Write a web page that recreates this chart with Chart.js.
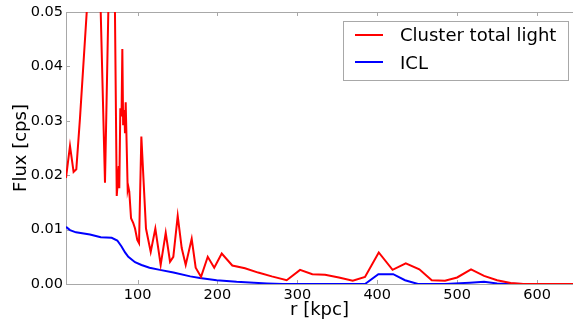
<!DOCTYPE html>
<html>
<head>
<meta charset="utf-8">
<script src="https://cdn.jsdelivr.net/npm/chart.js@4/dist/chart.umd.min.js"></script>
<style>
  body { margin: 0; background: #fff; }
  canvas { display: block; }
</style>
</head>
<body>
<canvas id="perfil" width="573" height="322"></canvas>
<script>
// dados
var nomes = ['Cluster total light', 'ICL'];

var rTotal = [10.5, 15.5, 20, 23.4, 28, 49, 59.3, 69, 74, 75, 76.5, 77.2, 78.5, 80, 81, 82, 83.5, 84.3, 85.2,
    87.7, 88.5, 89.7, 91.9, 94.7, 96.9, 99.7, 101.9, 104.8, 110.6, 116.5, 122.3, 129, 135.3, 140.7, 144.8,
    150.3, 155.3, 160.3, 167.8, 172.8, 179.5, 187.9, 196, 205.4, 218.6, 234.5, 251, 268, 286.7, 303.4, 318.8,
    334.7, 352, 369.4, 384.7, 401.9, 419.2, 435.7, 452.7, 468.2, 484.8, 500, 517.4, 533.7, 550, 567, 583,
    600, 617, 633, 645];
var fluxTotal = [0.0195, 0.0254, 0.0206, 0.0211, 0.0305, 0.079, 0.0186, 0.092, 0.0162, 0.0182, 0.0217, 0.0176,
    0.0323, 0.0308, 0.0432, 0.0292, 0.0320, 0.0277, 0.0334, 0.0173, 0.0179, 0.0170, 0.0121, 0.0112, 0.0102,
    0.0081, 0.0075, 0.0271, 0.0102, 0.0059, 0.0102, 0.0035, 0.0094, 0.0041, 0.0050, 0.0125, 0.0066, 0.0035,
    0.0083, 0.0030, 0.0013, 0.0050, 0.0030, 0.0056, 0.0034, 0.0029, 0.0021, 0.0014, 0.0007, 0.0026, 0.0018,
    0.0017, 0.0012, 0.0006, 0.0013, 0.0058, 0.0026, 0.0038, 0.0027, 0.0007, 0.0006, 0.0012, 0.0027, 0.0015,
    0.0007, 0.0002, 0, 0, 0, 0, 0];

var rIcl = [10.5, 15.5, 23, 40.5, 54, 67.7, 74.7, 80, 84.4, 88.5, 96.9, 105, 115, 128, 145, 166, 178, 199,
    224, 262, 282, 384.7, 401.4, 420, 434.8, 451, 484.8, 516, 533.7, 550, 583, 600, 645];
var fluxIcl = [0.0105, 0.0099, 0.0095, 0.0091, 0.0086, 0.0085, 0.0080, 0.0069, 0.0058, 0.0050, 0.0040, 0.0035,
    0.0030, 0.0026, 0.0021, 0.0014, 0.0011, 0.0007, 0.0004, 0.0001, 0, 0, 0.0018, 0.0018, 0.0007, 0, 0,
    0.00025, 0.0004, 0.0001, 0, 0, 0];

var ticksX = [100, 200, 300, 400, 500, 600];
var ticksY = [0, 0.01, 0.02, 0.03, 0.04, 0.05];

var fonte = "'DejaVu Sans', sans-serif";
var cinza = '#a8a8a8';

function pontos(xs, ys) {
    var lista = [];
    for (var i = 0; i < xs.length; i++) {
        lista.push({ x: xs[i], y: ys[i] });
    }
    return lista;
}

// moldura com ticks para dentro (estilo matplotlib)
var moldura = {
    id: 'moldura',
    beforeDatasetsDraw: function (chart) {
        var c = chart.ctx;
        var a = chart.chartArea;
        var sx = chart.scales.x;
        var sy = chart.scales.y;
        c.save();
        c.strokeStyle = cinza;
        c.lineWidth = 1;
        c.strokeRect(a.left + 0.5, a.top + 0.5, a.right - a.left, a.bottom - a.top);
        c.beginPath();
        ticksX.forEach(function (v) {
            var px = Math.round(sx.getPixelForValue(v)) + 0.5;
            c.moveTo(px, a.bottom); c.lineTo(px, a.bottom - 4);
            c.moveTo(px, a.top); c.lineTo(px, a.top + 4);
        });
        ticksY.forEach(function (v) {
            var py = Math.round(sy.getPixelForValue(v)) + 0.5;
            c.moveTo(a.left, py); c.lineTo(a.left + 4, py);
        });
        c.stroke();
        c.restore();
    },
    afterDraw: function (chart) {
        var c = chart.ctx;
        c.save();
        c.fillStyle = '#fff';
        c.fillRect(343.5, 21.5, 225, 59);
        c.strokeStyle = cinza;
        c.lineWidth = 1;
        c.strokeRect(343.5, 21.5, 225, 59);
        var linhas = [35, 62];
        var bases = [41.3, 69.3];
        chart.data.datasets.forEach(function (ds, i) {
            c.strokeStyle = ds.borderColor;
            c.lineWidth = 2;
            c.beginPath();
            c.moveTo(355, linhas[i]);
            c.lineTo(383, linhas[i]);
            c.stroke();
            c.fillStyle = '#000';
            c.font = '18px ' + fonte;
            c.textBaseline = 'alphabetic';
            c.textAlign = 'left';
            c.fillText(ds.label, 400, bases[i]);
        });
        c.restore();
    }
};

var ctx = document.getElementById('perfil');
var grafico = new Chart(ctx, {
    type: 'line',
    data: {
        datasets: [
            {
                label: nomes[0],
                data: pontos(rTotal, fluxTotal),
                borderColor: '#ff0000',
                borderWidth: 2,
                pointRadius: 0,
                tension: 0,
                fill: false
            },
            {
                label: nomes[1],
                data: pontos(rIcl, fluxIcl),
                borderColor: '#0000ff',
                borderWidth: 2,
                pointRadius: 0,
                tension: 0,
                fill: false
            }
        ]
    },
    options: {
        responsive: false,
        animation: false,
        events: [],
        layout: { padding: { top: 12, left: 0, right: 0, bottom: 0 } },
        plugins: {
            legend: { display: false },
            tooltip: { enabled: false }
        },
        scales: {
            x: {
                type: 'linear',
                min: 10.5,
                max: 645,
                afterBuildTicks: function (s) { s.ticks = ticksX.map(function (v) { return { value: v }; }); },
                afterFit: function (s) { s.height = 38; },
                grid: { display: false, drawTicks: false },
                border: { display: false },
                ticks: { color: '#000', font: { family: fonte, size: 14.5 }, padding: 3, maxRotation: 0 },
                title: {
                    display: true,
                    text: 'r [kpc]',
                    color: '#000',
                    font: { family: fonte, size: 18 },
                    padding: { top: 0, bottom: 1 }
                }
            },
            y: {
                type: 'linear',
                min: 0,
                max: 0.05,
                afterBuildTicks: function (s) { s.ticks = ticksY.map(function (v) { return { value: v }; }); },
                afterFit: function (s) { s.width = 66; },
                grid: { display: false, drawTicks: false },
                border: { display: false },
                ticks: {
                    color: '#000',
                    font: { family: fonte, size: 14.5 },
                    padding: 3,
                    callback: function (v) { return v.toFixed(2); }
                },
                title: {
                    display: true,
                    text: 'Flux [cps]',
                    color: '#000',
                    font: { family: fonte, size: 18 },
                    padding: { top: 11, bottom: 0 }
                }
            }
        }
    },
    plugins: [moldura]
});
</script>
</body>
</html>
